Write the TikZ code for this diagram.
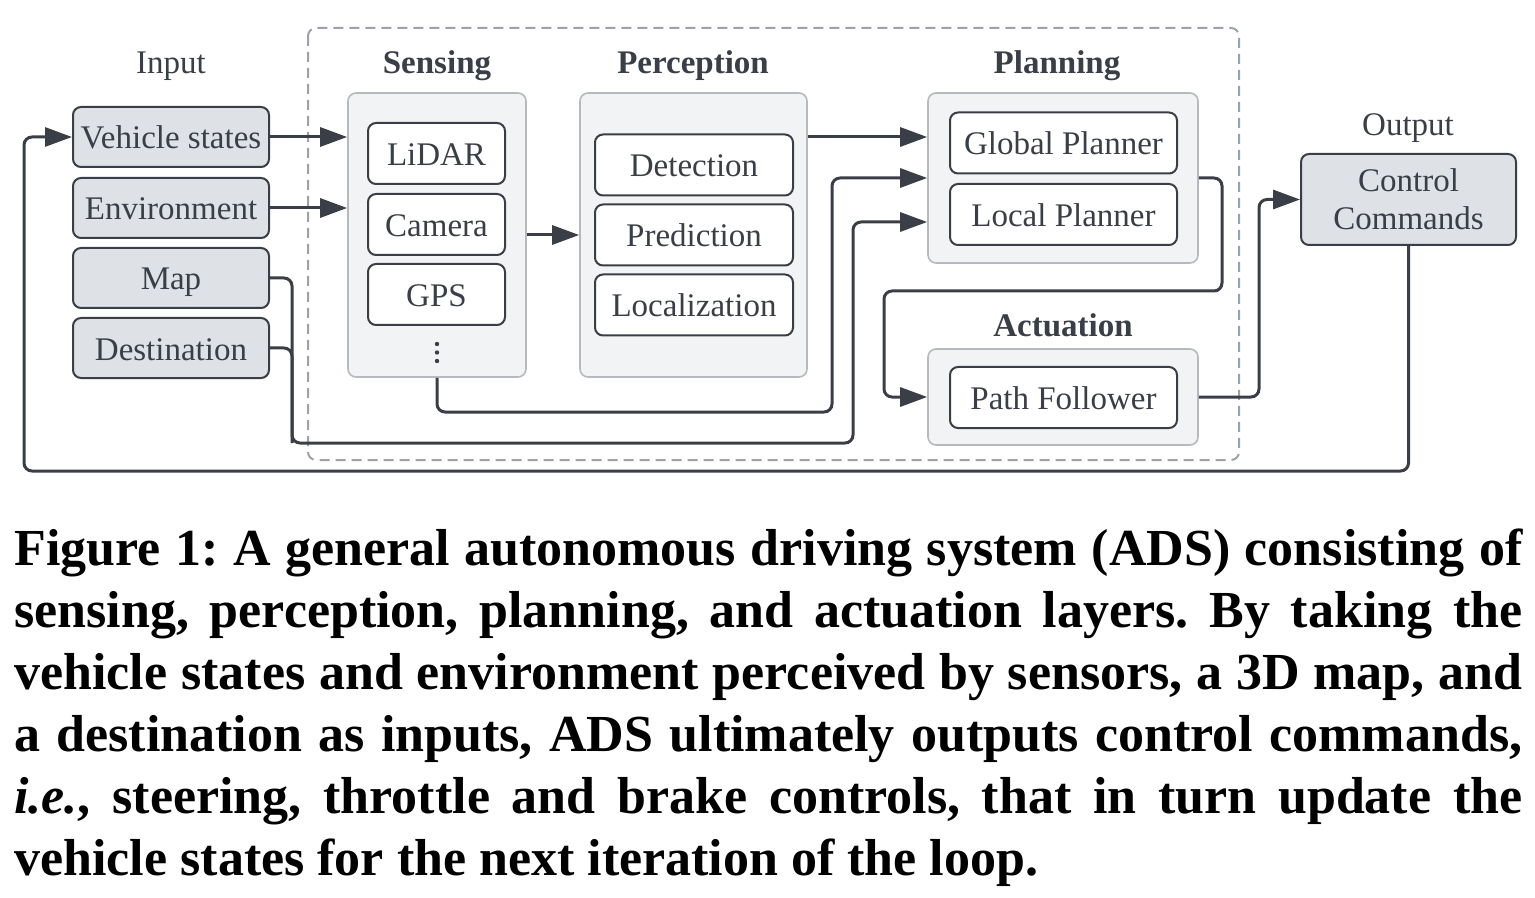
\documentclass[tikz,border=0pt]{standalone}
\usepackage{fontspec}
\setmainfont{Liberation Serif}
\usetikzlibrary{arrows.meta}
\definecolor{ink}{HTML}{3A3F47}
\definecolor{inbox}{HTML}{DEE1E6}
\definecolor{outfill}{HTML}{F2F3F5}
\definecolor{outline}{HTML}{B6BAC0}
\definecolor{dashc}{HTML}{9CA2AA}
\tikzset{
  lbl/.style={font=\fontsize{16.5}{19}\selectfont, text=ink, inner sep=0pt, text height=12pt, text depth=0pt},
  inputbox/.style={draw=ink, line width=1pt, fill=inbox, rounded corners=4pt, minimum width=98pt, minimum height=30pt, inner sep=0pt, font=\fontsize{16.5}{19}\selectfont, text=ink, text height=12pt, text depth=0pt},
  layerbox/.style={draw=outline, line width=0.8pt, fill=outfill, rounded corners=4pt, inner sep=0pt},
  itembox/.style={draw=ink, line width=1pt, fill=white, rounded corners=4pt, minimum height=30.5pt, inner sep=0pt, font=\fontsize{16.5}{19}\selectfont, text=ink, text height=12pt, text depth=0pt},
  conn/.style={draw=ink, line width=1.5pt, rounded corners=4pt, -{Triangle[length=13.5pt,width=9.5pt]}},
  plainconn/.style={draw=ink, line width=1.5pt, rounded corners=4pt},
}
\begin{document}
\begin{tikzpicture}[x=0.5pt, y=-0.5pt]
\useasboundingbox (0,0) rectangle (1535,898);
% dashed frame
\draw[dashc, line width=1pt, dash pattern=on 5pt off 3pt, rounded corners=4pt] (308,28) rectangle (1239,460);
% labels
\node[lbl] (linput) at (171,62) {Input};
\node[lbl, font=\bfseries\fontsize{16.5}{19}\selectfont] (lsens) at (437,62) {Sensing};
\node[lbl, font=\bfseries\fontsize{16.5}{19}\selectfont] (lperc) at (693,62) {Perception};
\node[lbl, font=\bfseries\fontsize{16.5}{19}\selectfont] (lplan) at (1057,62) {Planning};
\node[lbl, font=\bfseries\fontsize{16.5}{19}\selectfont] (lact) at (1063,324) {Actuation};
\node[lbl] (lout) at (1408,124) {Output};
% input boxes
\node[inputbox] (vs) at (171,137) {Vehicle states};
\node[inputbox] (env) at (171,208) {Environment};
\node[inputbox] (map) at (171,278) {Map};
\node[inputbox] (dest) at (171,348) {Destination};
% layer boxes
\node[layerbox, minimum width=89pt, minimum height=142pt] (sens) at (437,235) {};
\node[layerbox, minimum width=113.5pt, minimum height=142pt] (perc) at (693.5,235) {};
\node[layerbox, minimum width=135pt, minimum height=85pt] (plan) at (1063,178) {};
\node[layerbox, minimum width=135pt, minimum height=48pt] (act) at (1063,397) {};
% sensing items
\node[itembox, minimum width=68.5pt] (lidar) at (436.5,153.5) {LiDAR};
\node[itembox, minimum width=68.5pt] (cam) at (436.5,224.5) {Camera};
\node[itembox, minimum width=68.5pt] (gps) at (436.5,294.5) {GPS};
\foreach \yy in {344,352.5,361} \fill[ink] (437,\yy) circle (1.1pt);
% perception items
\node[itembox, minimum width=99pt] (det) at (694,165) {Detection};
\node[itembox, minimum width=99pt] (pred) at (694,235) {Prediction};
\node[itembox, minimum width=99pt] (loc) at (694,305) {Localization};
% planning items
\node[itembox, minimum width=113.5pt] (gp) at (1063.5,143) {Global Planner};
\node[itembox, minimum width=113.5pt] (lp) at (1063.5,214.5) {Local Planner};
% actuation item
\node[itembox, minimum width=113.5pt] (pf) at (1063.5,397.5) {Path Follower};
% output
\node[draw=ink, line width=1pt, fill=inbox, rounded corners=4pt, inner sep=0pt, minimum width=107.5pt, minimum height=45.5pt, align=center, text=ink, font=\fontsize{16.5}{19}\selectfont] (cc) at (1408.5,199.5) {Control\\Commands};
% helper coordinates
\coordinate (s1) at (832,412);
\coordinate (m1) at (292,443);
\coordinate (m2) at (853,443);
\coordinate (a1) at (1222,291);
\coordinate (a2) at (884,291);
\coordinate (b1) at (1259,199.5);
\coordinate (c1) at (24,471);
% connectors
\draw[conn] (vs.east) -- (vs.east -| sens.west);
\draw[conn] (env.east) -- (env.east -| sens.west);
\draw[conn] (sens.east) -- (perc.west);
\draw[conn] (perc.east |- vs.east) -- (plan.west |- vs.east);
\draw[conn] (sens.south) |- (s1) |- (plan.west);
\draw[plainconn] (dest.east) -| (m1);
\draw[conn] (map.east) -| (m1) -- (m2) |- ([yshift=-22pt]plan.west);
\draw[conn] (plan.east) -| (a1) -- (a2) |- (act.west);
\draw[conn] (act.east) -| (b1) -- (cc.west);
\draw[conn] (cc.south) |- (c1) |- (vs.west);
% caption
\node[anchor=north west, inner sep=0pt, text width=754pt, align=justify, font=\frenchspacing\bfseries\fontsize{26}{31}\selectfont, text=black] (cap) at (14,528) {Figure 1: A general autonomous driving system (ADS) consisting of\linebreak
sensing, perception, planning, and actuation layers. By taking the\linebreak
vehicle states and environment perceived by sensors, a 3D map, and\linebreak
a destination as inputs, ADS ultimately outputs control commands,\linebreak
\textit{i.e.}, steering, throttle and brake controls, that in turn update the\linebreak
vehicle states for the next iteration of the loop.};
\end{tikzpicture}
\end{document}
